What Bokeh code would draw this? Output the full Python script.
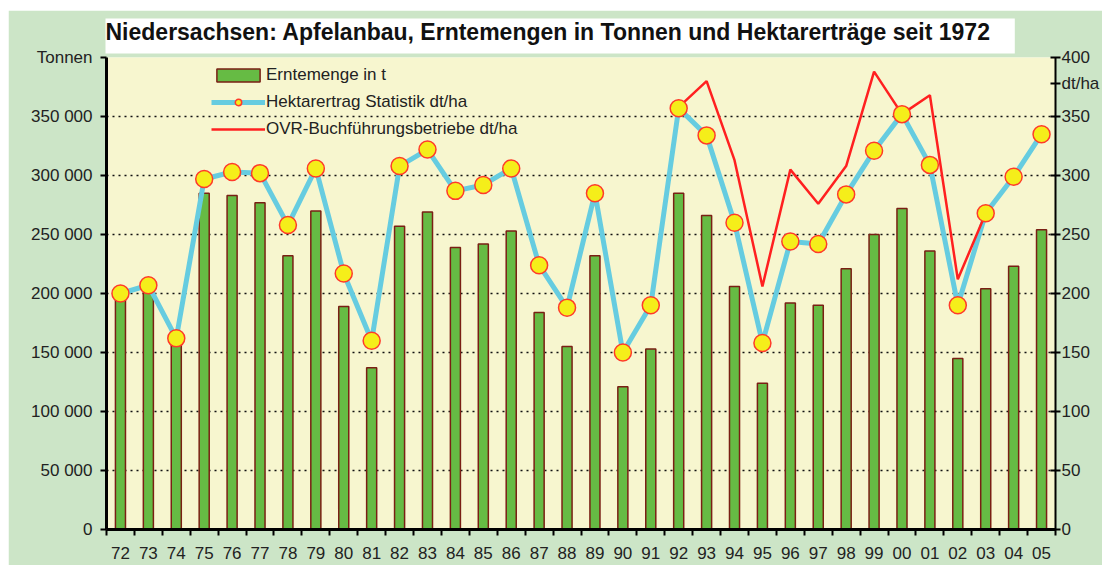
import numpy as np
from bokeh.plotting import figure
from bokeh.layouts import column, row
from bokeh.models import (ColumnDataSource, LinearAxis, Range1d, FixedTicker,
                          Legend, LegendItem, Spacer)
from bokeh.embed import file_html
from bokeh.resources import INLINE

# ---------------- data ----------------
years = ["72", "73", "74", "75", "76", "77", "78", "79", "80", "81", "82", "83",
         "84", "85", "86", "87", "88", "89", "90", "91", "92", "93", "94", "95",
         "96", "97", "98", "99", "00", "01", "02", "03", "04", "05"]
erntemenge_t = [196000, 201000, 158000, 285000, 283000, 277000, 232000, 270000,
                189000, 137000, 257000, 269000, 239000, 242000, 253000, 184000,
                155000, 232000, 121000, 153000, 285000, 266000, 206000, 124000,
                192000, 190000, 221000, 250000, 272000, 236000, 145000, 204000,
                223000, 254000]
hektarertrag_stat = [200, 207, 162, 297, 303, 302, 258, 306, 217, 160, 308, 322,
                     287, 292, 306, 224, 188, 285, 150, 190, 357, 334, 260, 158,
                     244, 242, 284, 321, 352, 309, 190, 268, 299, 335]
ovr_buchfuehrung = [None] * 20 + [358, 380, 313, 206, 305, 276, 308, 388, 352,
                                  368, 212, 268] + [None, None]
left_ticks = [0, 50000, 100000, 150000, 200000, 250000, 300000, 350000, 400000]
left_tick_labels = ["0", "50 000", "100 000", "150 000", "200 000", "250 000",
                    "300 000", "350 000", "Tonnen"]
right_ticks = [0, 50, 100, 150, 200, 250, 300, 350, 378, 400]
right_tick_labels = ["0", "50", "100", "150", "200", "250", "300", "350", "dt/ha", "400"]

title_text = "Niedersachsen: Apfelanbau, Erntemengen in Tonnen und Hektarerträge seit 1972"
legend_labels = ["Erntemenge in t", "Hektarertrag Statistik dt/ha",
                 "OVR-Buchführungsbetriebe dt/ha"]

# ---------------- styling ----------------
FONT = "Liberation Sans"
OUTER = "#cce5c7"
INNER = "#f7f6cf"

n = len(years)
xpos = np.arange(n) + 0.5
src = ColumnDataSource(dict(
    x=xpos,
    t=erntemenge_t,
    h=hektarertrag_stat,
    o=np.array([np.nan if v is None else v for v in ovr_buchfuehrung], dtype=float),
))

p = figure(width=1094, height=555, output_backend="svg", toolbar_location=None,
           x_range=Range1d(0, n), y_range=Range1d(0, 400000),
           min_border_left=98, min_border_right=45, min_border_top=47,
           min_border_bottom=36, title=title_text)
p.border_fill_color = OUTER
p.background_fill_color = INNER
p.outline_line_color = None
p.extra_y_ranges = {"dt": Range1d(0, 400)}

# title
p.title.align = "left"
p.title.offset = -1
p.title.standoff = 8
p.title.text_font = FONT
p.title.text_font_style = "bold"
p.title.text_font_size = "23px"
p.title.text_color = "#111111"
p.title.background_fill_color = "white"
p.title.padding = (0, 24, 0, 9)

# bars
bars = p.vbar(x="x", top="t", width=0.36, source=src, fill_color="#66bb44",
              line_color="#7a1f14", line_width=1.5)
# lines
blue = p.line(x="x", y="h", source=src, y_range_name="dt", line_color="#66cce0",
              line_width=5)
red = p.line(x="x", y="o", source=src, y_range_name="dt", line_color="#ff2020",
             line_width=2.5)
marks = p.scatter(x="x", y="h", source=src, y_range_name="dt", size=17,
                  fill_color="#f5ee1a", line_color="#ff3a2a", line_width=1.5)

# grid
p.xgrid.visible = False
p.ygrid.ticker = FixedTicker(ticks=left_ticks)
p.ygrid.grid_line_color = "#111111"
p.ygrid.grid_line_dash = "2 4"
p.ygrid.grid_line_width = 1.5

# x axis
xa = p.xaxis[0]
xa.ticker = FixedTicker(ticks=list(xpos), minor_ticks=list(np.arange(n + 1)))
xa.major_label_overrides = {float(c): y for c, y in zip(xpos, years)}
xa.major_tick_out = 0
xa.major_tick_in = 0
xa.minor_tick_out = 6
xa.minor_tick_in = 0
xa.minor_tick_line_color = "black"
xa.minor_tick_line_width = 2
xa.axis_line_width = 3
xa.axis_line_color = "black"
xa.major_label_text_font = FONT
xa.major_label_text_font_size = "17px"
xa.major_label_text_color = "#222222"
xa.major_label_standoff = 11

# left axis
ya = p.yaxis[0]
ya.ticker = FixedTicker(ticks=left_ticks)
ya.major_label_overrides = {v: s for v, s in zip(left_ticks, left_tick_labels)}
ya.major_tick_out = 6
ya.major_tick_in = 0
ya.major_tick_line_width = 2
ya.minor_tick_out = 0
ya.minor_tick_in = 0
ya.axis_line_width = 3
ya.major_label_text_font = FONT
ya.major_label_text_font_size = "17px"
ya.major_label_text_color = "#222222"
ya.major_label_standoff = 8

# right axis
ra = LinearAxis(y_range_name="dt", ticker=FixedTicker(ticks=right_ticks))
ra.major_label_overrides = {v: s for v, s in zip(right_ticks, right_tick_labels)}
ra.major_tick_out = 5
ra.major_tick_in = 5
ra.major_tick_line_width = 2
ra.minor_tick_out = 0
ra.minor_tick_in = 0
ra.axis_line_width = 2
ra.major_label_text_font = FONT
ra.major_label_text_font_size = "17px"
ra.major_label_text_color = "#222222"
ra.major_label_standoff = 1
p.add_layout(ra, "right")

# legend
legend = Legend(items=[
    LegendItem(label=legend_labels[0], renderers=[bars]),
    LegendItem(label=legend_labels[1], renderers=[blue, marks]),
    LegendItem(label=legend_labels[2], renderers=[red]),
], location=(105, 390))
legend.padding = 0
legend.margin = 0
legend.spacing = 7
legend.glyph_height = 16
legend.glyph_width = 54
legend.label_height = 20
legend.label_standoff = 1
legend.background_fill_alpha = 0
legend.border_line_color = None
legend.label_text_font = FONT
legend.label_text_font_size = "17px"
legend.label_text_color = "#222222"
p.add_layout(legend, "center")

layout = column(Spacer(height=10), row(Spacer(width=8), p))
open("out.html", "w").write(file_html(layout, INLINE))
